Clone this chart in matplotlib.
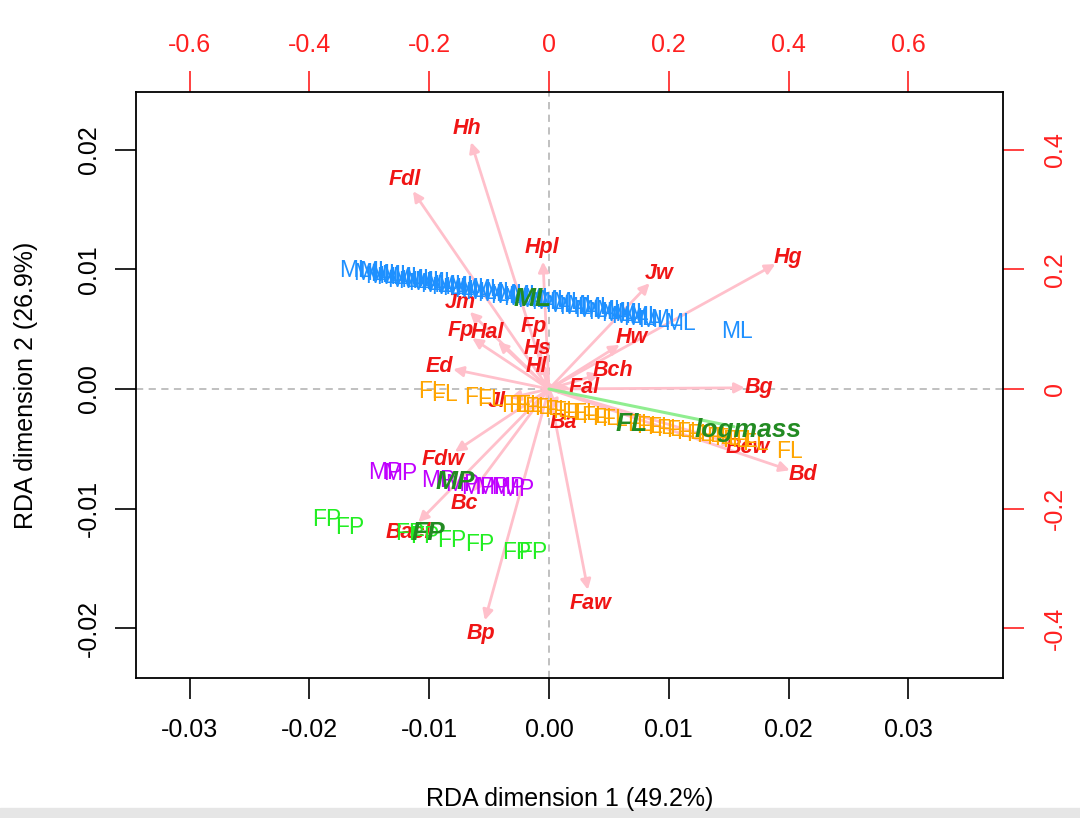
import numpy as np
import matplotlib.pyplot as plt
from matplotlib.patches import Rectangle

plt.rcParams['font.family'] = ['Liberation Sans', 'DejaVu Sans']

# site scores (RDA 1, RDA 2)
ml_x = [-0.0162, -0.0150, -0.0145, -0.0140, -0.0136, -0.0131, -0.0127, -0.0122, -0.0118, -0.0113,
        -0.0108, -0.0104, -0.0099, -0.0094, -0.0090, -0.0085, -0.0081, -0.0076, -0.0071, -0.0066,
        -0.0062, -0.0057, -0.0052, -0.0047, -0.0041, -0.0036, -0.0030, -0.0025, -0.0019, -0.0013,
        -0.0008, -0.0002, 0.0004, 0.0010, 0.0016, 0.0022, 0.0028, 0.0034, 0.0040, 0.0046,
        0.0052, 0.0057, 0.0061, 0.0065, 0.0070, 0.0075, 0.0080, 0.0088, 0.0098, 0.0109, 0.0157]
ml_y = [0.0099, 0.0097, 0.0098, 0.0094, 0.0096, 0.0093, 0.0095, 0.0091, 0.0093, 0.0090,
        0.0092, 0.0088, 0.0090, 0.0087, 0.0089, 0.0085, 0.0087, 0.0084, 0.0086, 0.0082,
        0.0084, 0.0081, 0.0083, 0.0079, 0.0081, 0.0077, 0.0079, 0.0076, 0.0078, 0.0074,
        0.0076, 0.0072, 0.0074, 0.0070, 0.0072, 0.0068, 0.0070, 0.0066, 0.0068, 0.0064,
        0.0066, 0.0062, 0.0064, 0.0061, 0.0063, 0.0059, 0.0061, 0.0057, 0.0058, 0.0055, 0.0048]

fl_x = [-0.00977, -0.00868, -0.00593, -0.00492, -0.00284, -0.00225, -0.00159, -0.00092, -0.00008, 0.00075,
        0.00142, 0.00217, 0.00301, 0.00384, 0.00468, 0.00551, 0.00760, 0.00843, 0.00927, 0.01010,
        0.01093, 0.01177, 0.01260, 0.01344, 0.01427, 0.01494, 0.01561, 0.01636, 0.01720, 0.02012]
fl_y = [-0.00025, -0.00042, -0.00075, -0.00092, -0.00134, -0.00134, -0.00142, -0.00151, -0.00167, -0.00176,
        -0.00192, -0.00209, -0.00209, -0.00226, -0.00243, -0.00259, -0.00293, -0.00310, -0.00326, -0.00343,
        -0.00351, -0.00360, -0.00377, -0.00393, -0.00402, -0.00418, -0.00427, -0.00435, -0.00460, -0.00519]

mp_x = [-0.01369, -0.01244, -0.00927, -0.00726, -0.00593, -0.00476, -0.00342, -0.00267]
mp_y = [-0.00695, -0.00703, -0.00762, -0.00795, -0.00820, -0.00828, -0.00828, -0.00837]

fp_x = [-0.01853, -0.01661, -0.01160, -0.01035, -0.00810, -0.00576, -0.00267, -0.00134]
fp_y = [-0.01096, -0.01155, -0.01213, -0.01238, -0.01264, -0.01305, -0.01372, -0.01372]

groups = ['ML', 'FL', 'MP', 'FP']
group_cols = ['#1E90FF', '#FFA500', '#C000FF', '#22EE22']

# group centroids and constraint
cent_x = [-0.00134, 0.00693, -0.00785, -0.0101]
cent_y = [0.00753, -0.00293, -0.00778, -0.01205]
logmass_x, logmass_y = 0.01545, -0.00315

# species arrows (top / right scale)
arr_lab = ['Hh', 'Fdl', 'Hpl', 'Jw', 'Hg', 'Jm', 'Fp', 'Hal', 'Fp', 'Hs', 'Hl', 'Hw', 'Bch',
           'Ed', 'Fal', 'Bg', 'Jl', 'Ba', 'Bcw', 'Bd', 'Fdw', 'Bc', 'Bacl', 'Faw', 'Bp']
arr_x = [-0.130, -0.227, -0.010, 0.168, 0.378, -0.132, -0.128, -0.085, -0.020, -0.013, -0.010, 0.118, 0.085,
         -0.160, 0.035, 0.327, -0.065, 0.015, 0.310, 0.402, -0.157, -0.128, -0.218, 0.065, -0.107]
arr_y = [0.413, 0.331, 0.213, 0.177, 0.209, 0.129, 0.085, 0.079, 0.082, 0.045, 0.018, 0.074, 0.025,
         0.033, 0.002, 0.002, -0.015, -0.035, -0.092, -0.136, -0.105, -0.172, -0.223, -0.336, -0.387]

fig = plt.figure(figsize=(10.8, 8.18), dpi=100, facecolor='white')
pos = [136/1080, 1 - 678/818, (1003-136)/1080, (678-92)/818]

# biplot axes underneath
ax2 = fig.add_axes(pos, zorder=1)
ax = fig.add_axes(pos, zorder=2)
ax.patch.set_visible(False)

xlim = (-0.03447, 0.0379)
ylim = (-0.02418, 0.02485)
ax.set_xlim(xlim)
ax.set_ylim(ylim)
ax2.set_xlim(xlim[0]*20, xlim[1]*20)
ax2.set_ylim(ylim[0]*20, ylim[1]*20)

ax2.axhline(0, color='#BBBBBB', ls=(0, (4, 3)), lw=1.3, zorder=0)
ax2.axvline(0, color='#BBBBBB', ls=(0, (4, 3)), lw=1.3, zorder=0)

for lab, x, y in zip(arr_lab, arr_x, arr_y):
    ax2.annotate('', xy=(x, y), xytext=(0, 0),
                 arrowprops=dict(arrowstyle='-|>', color='#FFC0CB', lw=2,
                                 mutation_scale=15, shrinkA=0, shrinkB=0))
    d = np.hypot(x, y)
    ax2.annotate(lab, xy=(x, y), xytext=(14*x/d, 14*y/d), textcoords='offset pixels',
                 ha='center', va='center', color='#F01515', fontsize=15.5,
                 fontweight='bold', fontstyle='italic', zorder=5)

# sites
for g, col, xs, ys in zip(groups, group_cols, [ml_x, fl_x, mp_x, fp_x], [ml_y, fl_y, mp_y, fp_y]):
    for x, y in zip(xs, ys):
        ax.text(x, y, g, color=col, fontsize=16.5, ha='center', va='center')

ax.annotate('', xy=(logmass_x, logmass_y), xytext=(0, 0),
            arrowprops=dict(arrowstyle='-', color='#90EE90', lw=2.2, shrinkA=0, shrinkB=0))
ax.annotate('logmass', xy=(logmass_x, logmass_y), xytext=(14, -3), textcoords='offset pixels',
            ha='center', va='center', color='#228B22', fontsize=19,
            fontweight='bold', fontstyle='italic')
for g, x, y in zip(groups, cent_x, cent_y):
    ax.text(x, y, g, color='#228B22', fontsize=19, fontweight='bold', fontstyle='italic',
            ha='center', va='center')

# axes styling (R base look)
ax.set_xticks([-0.03, -0.02, -0.01, 0.0, 0.01, 0.02, 0.03])
ax.set_xticklabels(['-0.03', '-0.02', '-0.01', '0.00', '0.01', '0.02', '0.03'])
ax.set_yticks([-0.02, -0.01, 0.0, 0.01, 0.02])
ax.set_yticklabels(['-0.02', '-0.01', '0.00', '0.01', '0.02'], rotation=90, va='center')
ax.tick_params(axis='both', direction='out', length=15, width=1.2, labelsize=18)
ax.tick_params(axis='x', pad=14)
ax.tick_params(axis='y', pad=10)
for s in ax.spines.values():
    s.set_linewidth(1.3)

ax2.xaxis.tick_top()
ax2.yaxis.tick_right()
ax2.set_xticks([-0.6, -0.4, -0.2, 0, 0.2, 0.4, 0.6])
ax2.set_xticklabels(['-0.6', '-0.4', '-0.2', '0', '0.2', '0.4', '0.6'])
ax2.set_yticks([-0.4, -0.2, 0, 0.2, 0.4])
ax2.set_yticklabels(['-0.4', '-0.2', '0', '0.2', '0.4'], rotation=90, va='center')
ax2.tick_params(axis='both', direction='out', length=15, width=1.2, labelsize=18,
                colors='#FF2020')
ax2.tick_params(axis='x', pad=10)
ax2.tick_params(axis='y', pad=14)
for s in ax2.spines.values():
    s.set_visible(False)

ax.set_xlabel('RDA dimension 1 (49.2%)', fontsize=18, labelpad=32)
ax.set_ylabel('RDA dimension 2 (26.9%)', fontsize=18, labelpad=28)

# screenshot edge
fig.patches.append(Rectangle((0, 0), 1, 10/818, transform=fig.transFigure,
                             color='#E6E6E6', zorder=0))

fig.savefig('out.png', dpi=100, facecolor='white')
